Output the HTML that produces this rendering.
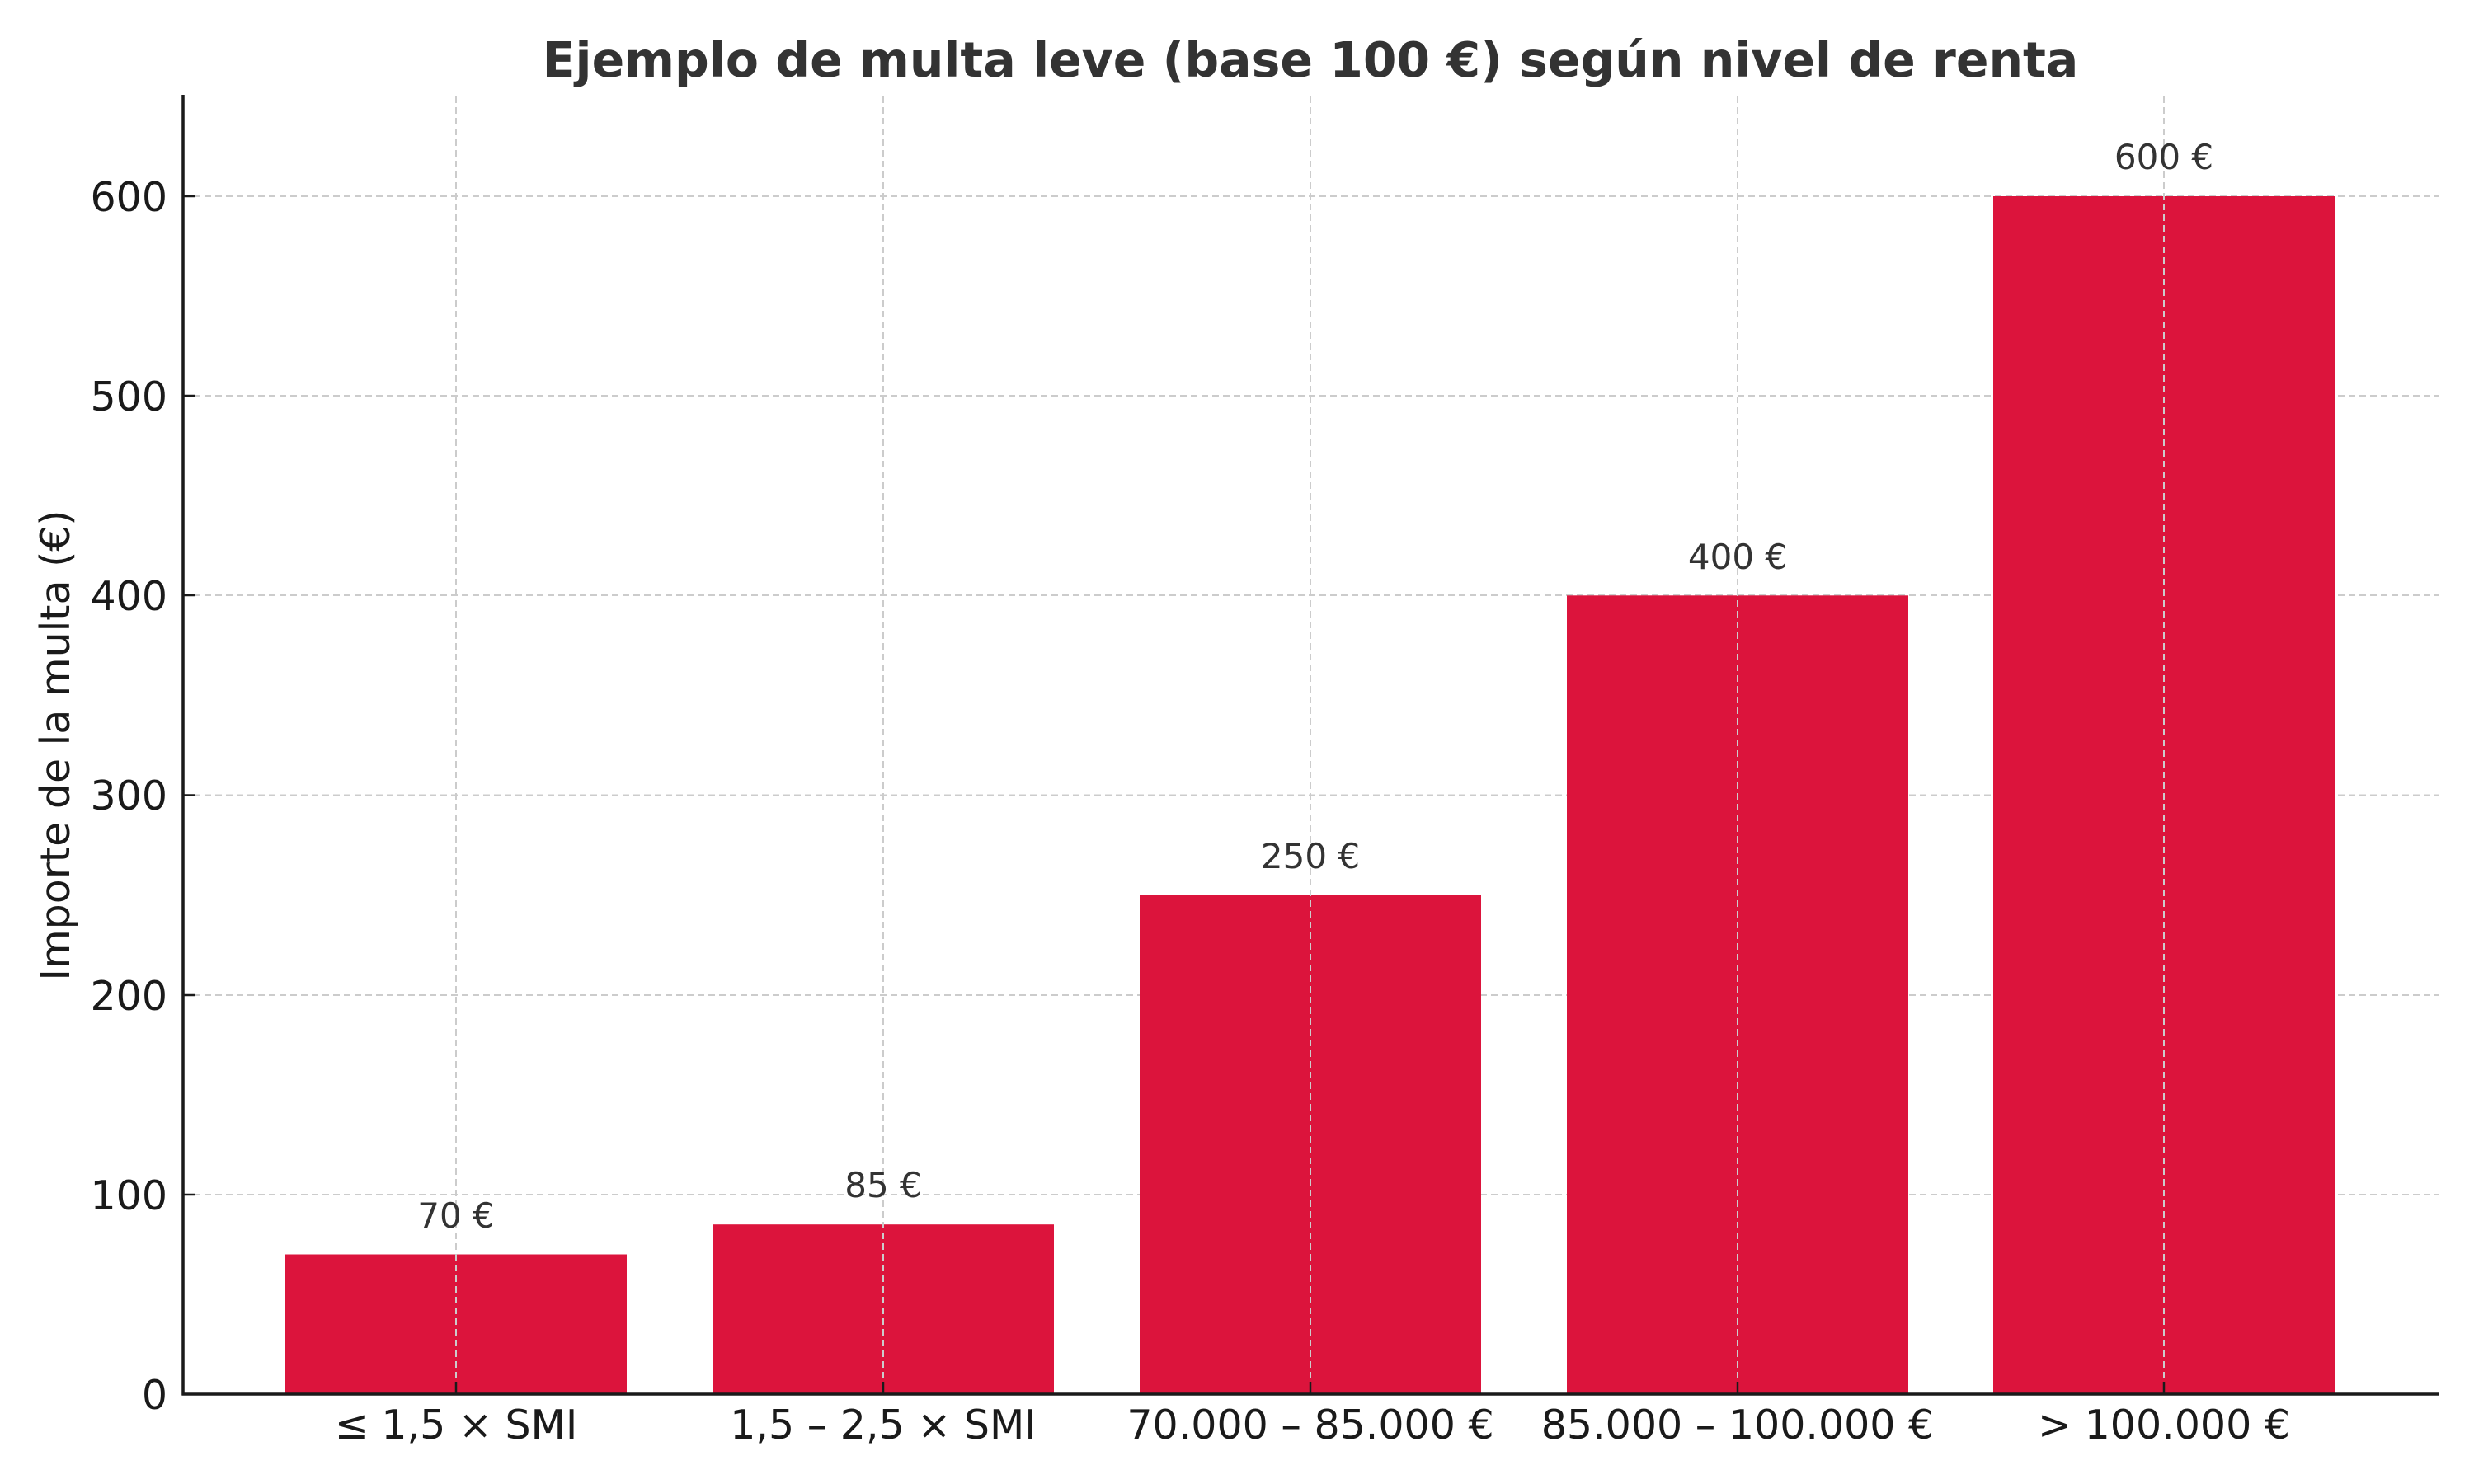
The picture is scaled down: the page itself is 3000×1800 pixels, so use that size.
<!DOCTYPE html>
<html><head><meta charset="utf-8"><style>
html,body{margin:0;padding:0;background:#fff;}
svg{display:block;}
text{font-family:"DejaVu Sans","Liberation Sans",sans-serif;}
</style></head><body>
<svg width="3000" height="1800" viewBox="0 0 3000 1800" xmlns="http://www.w3.org/2000/svg">
<rect width="3000" height="1800" fill="#fff"/>
<g stroke="#cccccc" stroke-width="2" stroke-dasharray="8,5">
<line x1="222" x2="2957" y1="1449" y2="1449"/>
<line x1="222" x2="2957" y1="1207" y2="1207"/>
<line x1="222" x2="2957" y1="964.5" y2="964.5"/>
<line x1="222" x2="2957" y1="722" y2="722"/>
<line x1="222" x2="2957" y1="480" y2="480"/>
<line x1="222" x2="2957" y1="238" y2="238"/>
</g>
<g fill="#DC143C">
<rect x="346" y="1521.5" width="414" height="169.5"/>
<rect x="864" y="1485.2" width="414" height="205.8"/>
<rect x="1382" y="1085.6" width="414" height="605.4"/>
<rect x="1900" y="722.3" width="414" height="968.7"/>
<rect x="2417" y="238" width="414" height="1453"/>
</g>
<g stroke="#cccccc" stroke-width="2" stroke-dasharray="8,5">
<line x1="553" x2="553" y1="117" y2="1691"/>
<line x1="1071" x2="1071" y1="117" y2="1691"/>
<line x1="1589" x2="1589" y1="117" y2="1691"/>
<line x1="2107" x2="2107" y1="117" y2="1691"/>
<line x1="2624" x2="2624" y1="117" y2="1691"/>
</g>
<g stroke="#1a1a1a" stroke-width="2.5">
<line x1="222" x2="237" y1="1449" y2="1449"/>
<line x1="222" x2="237" y1="1207" y2="1207"/>
<line x1="222" x2="237" y1="964.5" y2="964.5"/>
<line x1="222" x2="237" y1="722" y2="722"/>
<line x1="222" x2="237" y1="480" y2="480"/>
<line x1="222" x2="237" y1="238" y2="238"/>
<line x1="553" x2="553" y1="1691" y2="1676"/>
<line x1="1071" x2="1071" y1="1691" y2="1676"/>
<line x1="1589" x2="1589" y1="1691" y2="1676"/>
<line x1="2107" x2="2107" y1="1691" y2="1676"/>
<line x1="2624" x2="2624" y1="1691" y2="1676"/>
</g>
<g stroke="#1a1a1a" stroke-width="3.5" fill="none">
<line x1="222" x2="222" y1="115" y2="1692.5"/>
<line x1="220.5" x2="2957" y1="1691" y2="1691"/>
</g>
<g font-size="49" fill="#1a1a1a" text-anchor="end">
<text x="203" y="1709">0</text>
<text x="203" y="1467">100</text>
<text x="203" y="1225">200</text>
<text x="203" y="982">300</text>
<text x="203" y="740">400</text>
<text x="203" y="498">500</text>
<text x="203" y="256">600</text>
</g>
<g font-size="49" fill="#1a1a1a" text-anchor="middle">
<text x="553" y="1745">≤ 1,5 × SMI</text>
<text x="1071" y="1745">1,5 – 2,5 × SMI</text>
<text x="1589" y="1745">70.000 – 85.000 €</text>
<text x="2107" y="1745">85.000 – 100.000 €</text>
<text x="2624" y="1745">&gt; 100.000 €</text>
</g>
<g font-size="42" fill="#333" text-anchor="middle">
<text x="553" y="1489">70 €</text>
<text x="1071" y="1452">85 €</text>
<text x="1589" y="1053">250 €</text>
<text x="2107" y="690">400 €</text>
<text x="2624" y="205">600 €</text>
</g>
<text transform="translate(84,904) rotate(-90)" font-size="49" fill="#1a1a1a" text-anchor="middle">Importe de la multa (€)</text>
<text x="1589" y="93" font-size="58.4" font-weight="bold" fill="#333" text-anchor="middle">Ejemplo de multa leve (base 100 €) según nivel de renta</text>
</svg>
</body></html>
